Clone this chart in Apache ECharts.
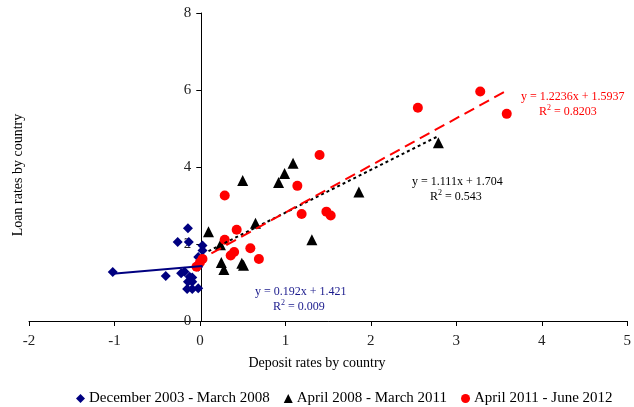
<!DOCTYPE html>
<html>
<head>
<meta charset="utf-8">
<script src="https://cdn.jsdelivr.net/npm/echarts@6/dist/echarts.min.js"></script>
<style>
html, body { margin: 0; padding: 0; background: #fff; }
#main { width: 634px; height: 407px; }
</style>
</head>
<body>
<div id="main"></div>
<script>
// deposit rate (x), loan rate (y) per country
var period1 = [
  [-1.02, 1.27], [-0.40, 1.17], [-0.14, 2.41], [-0.26, 2.05], [-0.13, 2.05],
  [0.03, 1.96], [0.03, 1.83], [-0.02, 1.66], [-0.22, 1.24], [-0.18, 1.28],
  [-0.12, 1.15], [-0.09, 1.13], [-0.14, 1.02], [-0.09, 1.02], [-0.15, 0.83],
  [-0.09, 0.83], [-0.02, 0.85], [-0.02, 1.41]
];
var period2 = [
  [0.10, 2.32], [0.24, 1.98], [0.25, 1.52], [0.28, 1.34], [0.49, 1.50],
  [0.51, 1.45], [0.50, 3.65], [0.65, 2.54], [0.92, 3.60], [0.99, 3.83],
  [1.09, 4.10], [1.31, 2.11], [1.86, 3.35], [2.79, 4.63]
];
var period3 = [
  [1.40, 4.31], [0.29, 3.26], [1.14, 3.51], [1.19, 2.78], [1.48, 2.84],
  [1.53, 2.74], [0.43, 2.37], [0.29, 2.11], [0.59, 1.89], [0.40, 1.79],
  [0.36, 1.70], [0.69, 1.61], [0.03, 1.61], [0.00, 1.52], [-0.04, 1.41],
  [2.55, 5.54], [3.28, 5.96], [3.59, 5.38]
];
var seriesNames = ['December 2003 - March 2008', 'April 2008 - March 2011', 'April 2011 - June 2012'];
// trendline slope, intercept, R²
var trend1 = [0.192, 1.421, '0.009'];
var trend2 = [1.111, 1.704, '0.543'];
var trend3 = [1.2236, 1.5937, '0.8203'];
var xMin = -2, xMax = 5;

function trendLine(points, t) {
  var xs = points.map(function (p) { return p[0]; });
  var x0 = Math.min.apply(null, xs), x1 = Math.max.apply(null, xs);
  return [[x0, t[0] * x0 + t[1]], [x1, t[0] * x1 + t[1]]];
}

var serif = 'Liberation Serif, Times New Roman, serif';
var gridLeft = 29, gridRight = 2;
var plotW = 634 - gridLeft - gridRight;
var myChart = echarts.init(document.getElementById('main'), null, { renderer: 'canvas' });

function eqText(x, y, t, dec, color) {
  return {
    type: 'text', left: x, top: y, z: 100,
    style: {
      text: 'y = ' + t[0] + 'x + ' + t[1].toFixed(dec) + '\n      R{s|2} = ' + t[2],
      fill: color, font: '12px ' + serif, lineHeight: 15,
      rich: { s: { fontSize: 8, verticalAlign: 'top', fill: color, fontFamily: serif, padding: [0, 0, 6, 0] } }
    }
  };
}

var option = {
  animation: false,
  grid: { left: gridLeft, right: gridRight, top: 13, bottom: 86 },
  xAxis: {
    type: 'value', min: xMin, max: xMax, interval: 1,
    splitLine: { show: false },
    axisLine: { onZero: true, lineStyle: { color: '#000', width: 1 } },
    axisTick: { inside: false, length: 5, lineStyle: { color: '#000' } },
    axisLabel: { color: '#222', fontFamily: serif, fontSize: 15, margin: 13 }
  },
  yAxis: {
    type: 'value', min: 0, max: 8, interval: 2,
    // y axis crosses the x axis at 0
    offset: -plotW * (0 - xMin) / (xMax - xMin),
    splitLine: { show: false },
    axisLine: { show: true, onZero: false, lineStyle: { color: '#000', width: 1 } },
    axisTick: { show: true, length: 5, lineStyle: { color: '#000' } },
    axisLabel: { color: '#222', fontFamily: serif, fontSize: 15, margin: 10 }
  },
  legend: {
    data: seriesNames, top: 386, left: 71, itemGap: 14, itemWidth: 9, itemHeight: 9,
    textStyle: { fontFamily: serif, fontSize: 15, color: '#000', padding: [0, 0, 0, -1] }
  },
  graphic: [
    { type: 'text', left: 'center', top: 356, style: { text: 'Deposit rates by country', font: '14px ' + serif, fill: '#000' } },
    { type: 'text', x: 18, y: 175, rotation: Math.PI / 2,
      style: { text: 'Loan rates by country', font: '14px ' + serif, fill: '#000', align: 'center', verticalAlign: 'middle' } },
    eqText(521, 89, trend3, 4, '#ff0000'),
    eqText(412, 174, trend2, 3, '#000000'),
    eqText(255, 284, trend1, 3, '#1a1a8c')
  ],
  series: [
    { name: seriesNames[0], type: 'scatter', symbol: 'diamond', symbolSize: 10, itemStyle: { color: '#000080', opacity: 1 }, data: period1, z: 3 },
    { name: seriesNames[1], type: 'scatter', symbol: 'triangle', symbolSize: 11, itemStyle: { color: '#000000', opacity: 1 }, data: period2, z: 3 },
    { name: seriesNames[2], type: 'scatter', symbol: 'circle', symbolSize: 10, itemStyle: { color: '#ff0000', opacity: 1 }, data: period3, z: 3 },
    { type: 'line', data: trendLine(period1, trend1), symbol: 'none', lineStyle: { color: '#000080', width: 2 }, z: 4 },
    { type: 'line', data: trendLine(period2, trend2), symbol: 'none', lineStyle: { color: '#000000', width: 2, type: [3, 3] }, z: 4 },
    { type: 'line', data: trendLine(period3, trend3), symbol: 'none', lineStyle: { color: '#ff0000', width: 2, type: [11, 6] }, z: 5 }
  ]
};

myChart.setOption(option);
window.addEventListener('resize', myChart.resize);
</script>
</body>
</html>
